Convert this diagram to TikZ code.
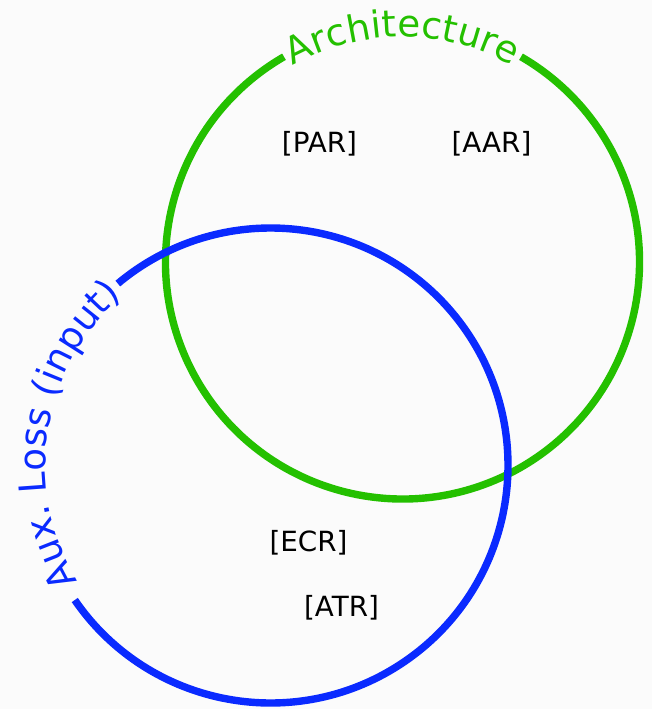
\documentclass[tikz,border=0pt]{standalone}
\usepackage{fontspec}
\setmainfont{DejaVu Sans}
\usetikzlibrary{decorations.text}
\definecolor{vennGreen}{RGB}{36,192,0}
\definecolor{vennBlue}{RGB}{10,42,255}
\definecolor{vennPaper}{RGB}{251,251,251}
\tikzset{
  % the two circles, each drawn as an arc that leaves room for its title
  ring/.style={line width=3.7pt},
  % the short tags inside the circles
  tagtext/.style={font=\fontsize{13.9pt}{16pt}\selectfont, text=black, inner sep=1pt},
  % a title bent along a circle
  bent/.style={decorate, decoration={text along path, text align=center}},
}
\newcommand{\titlefont}{\fontsize{18.6pt}{21pt}\selectfont}

\begin{document}
\begin{tikzpicture}[x=0.5pt,y=0.5pt]

\def\rg{237}    % radius, architecture circle
\def\rb{237.5}  % radius, aux. loss circle
\def\rt{225}    % radius of the title baselines

\useasboundingbox (0,0) rectangle (652,709);
\fill[vennPaper] (0,0) rectangle (652,709);

% ------------------------------- centres ----------------------------------
\coordinate (arch) at (402.5,447);
\coordinate (aux)  at (270.5,243.5);

% ------------------------------- circles ----------------------------------
\draw[ring, vennGreen] (arch) ++(120:\rg)
      arc[start angle=120, end angle=420, radius=\rg];
\draw[ring, vennBlue] (aux) ++(214.5:\rb)
      arc[start angle=214.5, end angle=490, radius=\rb];

% ------------------------------- titles -----------------------------------
\path[bent, decoration={text={|\titlefont\color{vennGreen}|Architecture}}]
      (arch) ++(122:\rt) arc[start angle=122, end angle=58, radius=\rt];
\path[bent, decoration={text={|\titlefont\color{vennBlue}|Aux. Loss (input)}}]
      (aux) ++(213:\rt) arc[start angle=213, end angle=129, radius=\rt];

% ------------------------------- tags -------------------------------------
\node[tagtext] (par) at (319.5,565) {[PAR]};
\node[tagtext] (aar) at (491.5,565) {[AAR]};
\node[tagtext] (ecr) at (308.5,166) {[ECR]};
\node[tagtext] (atr) at (341.5,101) {[ATR]};

\end{tikzpicture}
\end{document}
